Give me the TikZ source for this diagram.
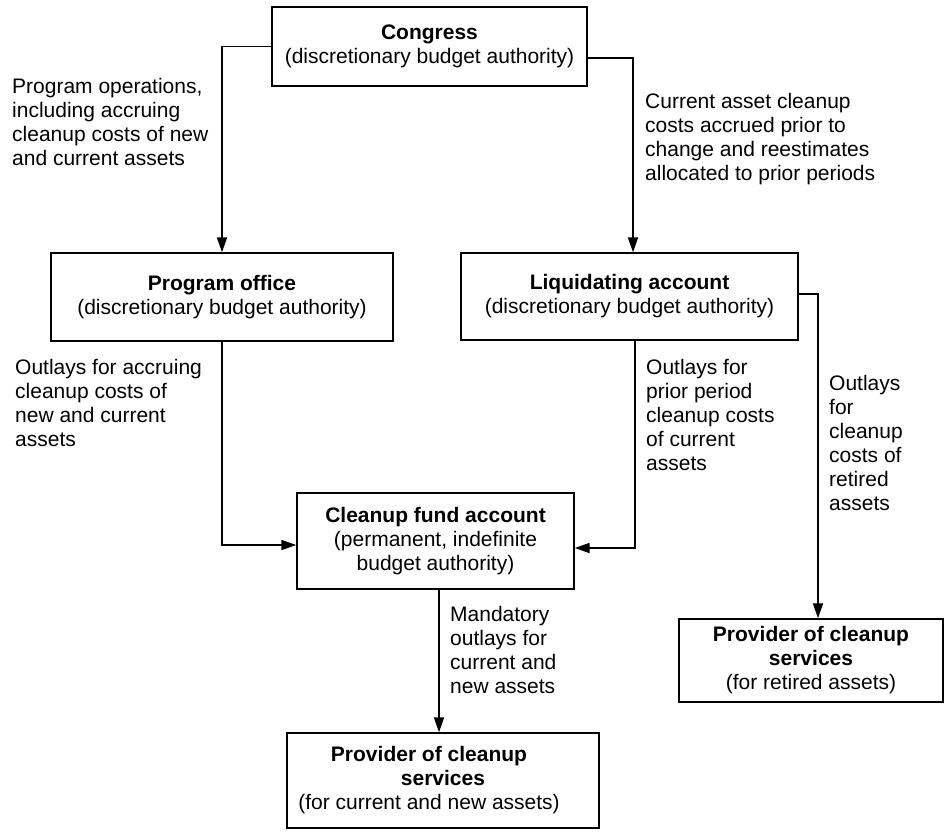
\documentclass[tikz,border=0pt]{standalone}
\usepackage{fontspec}
\setmainfont{Liberation Sans}
\usetikzlibrary{arrows.meta}
\begin{document}
\begin{tikzpicture}[x=1pt,y=-1pt,
  every node/.style={font=\fontsize{21}{24}\selectfont},
  box/.style={draw, line width=1.4pt, align=center, inner sep=0pt},
  note/.style={align=left, anchor=west, inner sep=0pt},
  flow/.style={line width=1.8pt, -{Triangle[length=15pt,width=10pt]}}]
\useasboundingbox (0,0) rectangle (948,831);

% accounts and providers
\node[box, minimum width=315pt, minimum height=79pt] (congress) at (429.5,46.5)
  {\textbf{Congress}\\(discretionary budget authority)};
\node[box, minimum width=342pt, minimum height=88pt] (progoff) at (222,297)
  {\textbf{Program office}\\(discretionary budget authority)};
\node[box, minimum width=337pt, minimum height=87pt] (liq) at (629.5,296.5)
  {\textbf{Liquidating account}\\(discretionary budget authority)};
\node[box, minimum width=277pt, minimum height=96pt] (cleanup) at (435.5,541)
  {\textbf{Cleanup fund account}\\(permanent, indefinite\\budget authority)};
\node[box, minimum width=264pt, minimum height=83pt] (provR) at (811,660.5)
  {\textbf{Provider of cleanup}\\\textbf{services}\\(for retired assets)};
\node[box, minimum width=312pt, minimum height=95pt] (provB) at (443,780.5)
  {\textbf{Provider of cleanup}\hspace*{28pt}\\\textbf{services}\\(for current and new assets)\hspace*{28pt}};

% flows of funds
\draw[flow] (congress.west) -| (progoff.north);
\draw[flow] ([yshift=-11.5pt]congress.east) -| ([xshift=3.5pt]liq.north);
\draw[flow] (progoff.south) |- ([yshift=-4pt]cleanup.west);
\draw[flow] ([xshift=5.5pt]liq.south) |- ([yshift=-7pt]cleanup.east);
\draw[flow] ([yshift=2.5pt]liq.east) -| ([xshift=7pt]provR.north);
\draw[flow] ([xshift=3.5pt]cleanup.south) -- ([xshift=3.5pt]cleanup.south |- provB.north);

% flow descriptions
\node[note] (n1) at (12,122) {Program operations,\\including accruing\\cleanup costs of new\\and current assets};
\node[note] (n2) at (645,139) {Current asset cleanup\\costs accrued prior to\\change and reestimates\\allocated to prior periods};
\node[note] (n3) at (15,403) {Outlays for accruing\\cleanup costs of\\new and current\\assets};
\node[note] (n4) at (646,415) {Outlays for\\prior period\\cleanup costs\\of current\\assets};
\node[note] (n5) at (829,443) {Outlays\\for\\cleanup\\costs of\\retired\\assets};
\node[note] (n6) at (450,650) {Mandatory\\outlays for\\current and\\new assets};
\end{tikzpicture}
\end{document}
